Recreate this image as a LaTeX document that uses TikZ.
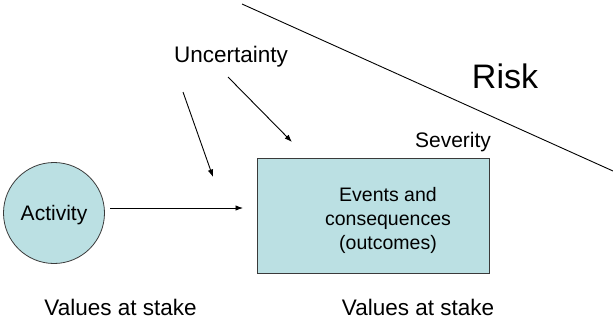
\documentclass[tikz,border=0pt]{standalone}
\usepackage{fontspec}
\setmainfont{Liberation Sans}
\usetikzlibrary{arrows.meta}
\definecolor{boxfill}{HTML}{BBE0E3}
\definecolor{boxedge}{HTML}{3A3A3A}
\tikzset{
  lbl/.style={inner sep=0pt, anchor=base},
  conn/.style={line width=0.9pt, -{Latex[length=7.5pt,width=5.5pt]}},
  plainline/.style={line width=0.9pt},
}
\begin{document}
\begin{tikzpicture}[x=1pt,y=-1pt]
\useasboundingbox (0,0) rectangle (613,322);
% nodes
\node[draw=boxedge, fill=boxfill, line width=0.8pt, circle, minimum size=101pt, inner sep=0pt] (act) at (54,213) {};
\node[lbl, font=\fontsize{21}{25}\selectfont] (acttxt) at (54,220) {Activity};
\node[draw=boxedge, fill=boxfill, line width=0.8pt, minimum width=232pt, minimum height=115pt, inner sep=0pt] (ev) at (373,215.5) {};
\node[inner sep=0pt, align=center, font=\fontsize{19.5}{24}\selectfont] (evtxt) at (388,220) {Events and\\consequences\\(outcomes)};
\node[lbl, font=\fontsize{22.5}{27}\selectfont] (unc) at (231,62) {Uncertainty};
\node[lbl, font=\fontsize{34}{40}\selectfont] (risk) at (505,88) {Risk};
\node[lbl, font=\fontsize{21}{25}\selectfont] (sev) at (453,147) {Severity};
\node[lbl, font=\fontsize{22.5}{27}\selectfont] (v1) at (120.5,315) {Values at stake};
\node[lbl, font=\fontsize{22.5}{27}\selectfont] (v2) at (418,315) {Values at stake};
% coordinates
\coordinate (a1s) at (110,208);
\coordinate (a1e) at (243,208);
\coordinate (u1s) at (183,92);
\coordinate (u1e) at (213,177);
\coordinate (u2s) at (228,77);
\coordinate (u2e) at (292,142);
\coordinate (r1) at (242,4);
\coordinate (r2) at (613,171);
% connectors
\draw[conn] (a1s) -- (a1e);
\draw[conn] (u1s) -- (u1e);
\draw[conn] (u2s) -- (u2e);
\draw[plainline] (r1) -- (r2);
\end{tikzpicture}
\end{document}
